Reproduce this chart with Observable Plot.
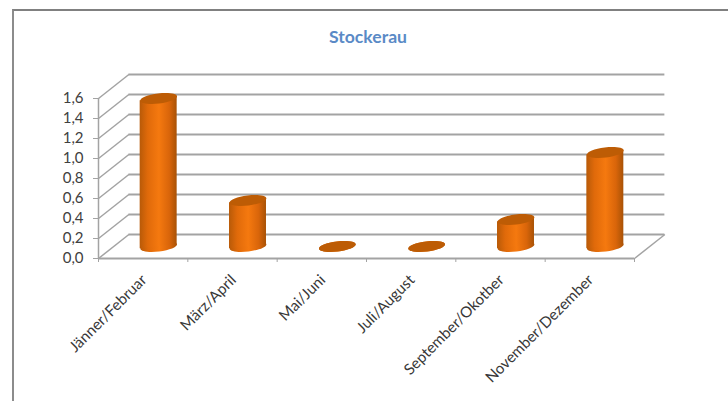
<!DOCTYPE html>
<html lang="de">
<head>
<meta charset="utf-8">
<title>Stockerau</title>
<script src="https://cdn.jsdelivr.net/npm/d3@7"></script>
<script src="https://cdn.jsdelivr.net/npm/@observablehq/plot@0.6"></script>
<style>
  html, body { margin: 0; padding: 0; background: #fff; }
  #frame { position: absolute; left: 12px; top: 9px; right: 0; bottom: 0; border-left: 2px solid #8c8c8c; border-top: 2px solid #808080; pointer-events: none; }
  svg { display: block; }
</style>
</head>
<body>
<div id="chart"></div>
<div id="frame"></div>
<script>
const periods = ["Jänner/Februar", "März/April", "Mai/Juni", "Juli/August", "September/Okotber", "November/Dezember"];
const values = [1.48, 0.46, 0, 0, 0.27, 0.94];
const yTicks = [0, 0.2, 0.4, 0.6, 0.8, 1.0, 1.2, 1.4, 1.6];
const xTicks = [0, 1, 2, 3, 4, 5, 6];

const rows = periods.map((period, i) => ({period, i, value: values[i]}));

// The pseudo-3D box: the back wall sits this far behind the front plane, in data units.
const depthX = 0.34;
const depthY = 0.24;
const barHalf = 0.207;
const gridColor = "#a3a3a3";
const textColor = "#404040";

// Bars stand halfway back in the box.
const midDx = 15.5;
const midDy = -12;

// Cylinder ends lean a few degrees; the body leans with them.
const tilt = -7 * Math.PI / 180;
const capRx = 18.5;
const capRy = 5;
const lean = capRx * Math.sin(-tilt) / 100; // px rise across half a bar, in y units

const tiltedEllipse = {
  draw(ctx) {
    const rx = capRx, ry = capRy, a = tilt, k = 0.5523;
    const p = (x, y) => [x * Math.cos(a) - y * Math.sin(a), x * Math.sin(a) + y * Math.cos(a)];
    ctx.moveTo(...p(rx, 0));
    ctx.bezierCurveTo(...p(rx, k * ry), ...p(k * rx, ry), ...p(0, ry));
    ctx.bezierCurveTo(...p(-k * rx, ry), ...p(-rx, k * ry), ...p(-rx, 0));
    ctx.bezierCurveTo(...p(-rx, -k * ry), ...p(-k * rx, -ry), ...p(0, -ry));
    ctx.bezierCurveTo(...p(k * rx, -ry), ...p(rx, -k * ry), ...p(rx, 0));
    ctx.closePath();
  }
};

// Each body is a leaning quadrilateral running from the left edge to the right edge of the bar.
const bodyEdges = rows.flatMap(d => [
  {period: d.period, x: d.i + 0.5 - barHalf, y1: -lean, y2: d.value - lean},
  {period: d.period, x: d.i + 0.5 + barHalf, y1: lean, y2: d.value + lean}
]);

// Horizontal shading that makes the bar bodies look round.
function cylinderGradient() {
  const ns = "http://www.w3.org/2000/svg";
  const defs = document.createElementNS(ns, "defs");
  const g = document.createElementNS(ns, "linearGradient");
  g.setAttribute("id", "cylinder");
  [["0%", "#b85a08"], ["22%", "#e06a0a"], ["52%", "#f5790f"], ["80%", "#d9650a"], ["100%", "#a85206"]].forEach(([o, c]) => {
    const s = document.createElementNS(ns, "stop");
    s.setAttribute("offset", o);
    s.setAttribute("stop-color", c);
    g.appendChild(s);
  });
  defs.appendChild(g);
  return defs;
}

const chart = Plot.plot({
  width: 728,
  height: 401,
  marginLeft: 98,
  marginRight: 94,
  marginTop: 98,
  marginBottom: 143,
  style: {fontFamily: "Lato, sans-serif", background: "#fff", color: textColor},
  x: {type: "linear", domain: [0, 6], range: [98, 634]},
  y: {type: "linear", domain: [0, 1.6]},
  marks: [
    cylinderGradient,
    // Back wall gridlines and the diagonals of the side wall
    Plot.ruleY(yTicks, {y: d => d + depthY, x1: depthX, x2: 6 + depthX, stroke: gridColor, strokeWidth: 2}),
    Plot.link(yTicks, {x1: 0, y1: d => d, x2: depthX, y2: d => d + depthY, stroke: gridColor, strokeWidth: 1.5}),
    Plot.link([0], {x1: 6, y1: 0, x2: 6 + depthX, y2: depthY, stroke: gridColor, strokeWidth: 1.5}),
    // Front axes
    Plot.ruleY([0], {x1: 0, x2: 6, stroke: gridColor, strokeWidth: 2}),
    Plot.ruleX([0], {y1: 0, y2: 1.6, stroke: gridColor, strokeWidth: 1.5}),
    Plot.axisY({
      ticks: yTicks, tickSize: 5, tickPadding: 10, stroke: gridColor, fill: textColor,
      fontSize: 15, label: null, tickFormat: d => d.toFixed(1).replace(".", ",")
    }),
    Plot.axisX({ticks: xTicks, tickSize: 4, stroke: gridColor, tickFormat: () => "", label: null}),
    // Category labels, rotated and ending under the middle of each band
    Plot.text(rows, {
      x: d => d.i + 0.5, y: 0, text: "period", rotate: -45, textAnchor: "end",
      dy: 19, dx: 1, fontSize: 15.2, fill: "#383838"
    }),
    // Cylinders: foot, body, cap
    Plot.dot(rows, {x: d => d.i + 0.5, y: 0, symbol: tiltedEllipse, r: 5, fill: "url(#cylinder)", dx: midDx, dy: midDy}),
    Plot.areaY(bodyEdges, {
      x: "x", y1: "y1", y2: "y2", z: "period", fill: "url(#cylinder)", dx: midDx, dy: midDy
    }),
    Plot.dot(rows, {x: d => d.i + 0.5, y: "value", symbol: tiltedEllipse, r: 5, fill: "#bd5c05", dx: midDx, dy: midDy}),
    // Title
    Plot.text(["Stockerau"], {
      frameAnchor: "top", dy: -68, dx: 1.5, fontSize: 17.6, fontWeight: "bold", fill: "#5a8ac6"
    })
  ]
});
document.getElementById("chart").appendChild(chart);
</script>
</body>
</html>
